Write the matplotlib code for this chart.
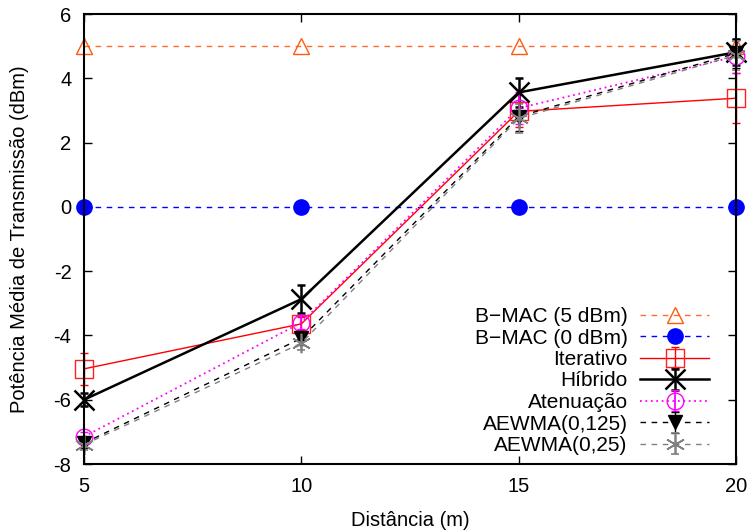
import matplotlib
matplotlib.use("Agg")
import matplotlib.pyplot as plt

plt.rcParams['font.family'] = ['Liberation Sans', 'DejaVu Sans']
plt.rcParams['axes.unicode_minus'] = False

dist = [5, 10, 15, 20]
bmac5 = [5, 5, 5, 5]
bmac0 = [0, 0, 0, 0]
iterativo = [-5.04, -3.64, 2.97, 3.38]
iterativo_err = [0.5, 0.2, 0.5, 0.78]
hibrido = [-6.0, -2.87, 3.56, 4.81]
hibrido_err = [0.2, 0.43, 0.45, 0.4]
atenuacao = [-7.15, -3.6, 3.07, 4.68]
atenuacao_err = [0.15, 0.2, 0.5, 0.5]
aewma125 = [-7.35, -4.09, 2.81, 4.78]
aewma125_err = [0.15, 0.2, 0.45, 0.45]
aewma25 = [-7.4, -4.24, 2.75, 4.72]
aewma25_err = [0.15, 0.2, 0.45, 0.45]

fig = plt.figure(figsize=(7.49, 5.32), dpi=100)
ax = fig.add_axes([84/749, 1-464/532, (736-84)/749, (464-14)/532])

ax.plot(dist, bmac5, linestyle=(0, (4, 4)), color='#ff6a30', lw=1, marker='^',
        ms=11, mfc='none', mec='#ff5a10', mew=1, label='B\u2212MAC (5 dBm)', clip_on=False)
ax.plot(dist, bmac0, linestyle=(0, (4, 4)), color='#0000ff', lw=1, marker='o',
        ms=11, mfc='#0000ff', mec='#0000ff', label='B\u2212MAC (0 dBm)', clip_on=False)
ax.errorbar(dist, iterativo, yerr=iterativo_err, color='#ff0000', lw=1, marker='s',
            ms=13, mfc='none', mec='#ff2020', capsize=3, label='Iterativo', clip_on=False)
ax.errorbar(dist, hibrido, yerr=hibrido_err, color='black', lw=1.8, marker='x',
            ms=14, mew=1.8, capsize=3, label='H\u00edbrido', clip_on=False)
ax.errorbar(dist, atenuacao, yerr=atenuacao_err, color='#ff00ff', lw=1.3, ls=(0, (1, 2)),
            marker='o', ms=12, mfc='none', capsize=3, label='Atenua\u00e7\u00e3o', clip_on=False)
ax.errorbar(dist, aewma125, yerr=aewma125_err, color='black', lw=1, ls=(0, (4, 4)),
            marker='v', ms=10, capsize=3, label='AEWMA(0,125)', clip_on=False)
ax.errorbar(dist, aewma25, yerr=aewma25_err, color='#808080', lw=1, ls=(0, (4, 4)),
            marker=(6, 2, 0), ms=14, mew=1.2, capsize=3, label='AEWMA(0,25)', clip_on=False)

ax.set_xlim(5, 20)
ax.set_ylim(-8, 6)
ax.set_xticks([5, 10, 15, 20])
ax.set_yticks([-8, -6, -4, -2, 0, 2, 4, 6])
ax.tick_params(direction='in', top=True, right=True, labelsize=14.5, length=6, width=1)
ax.tick_params(axis='x', pad=9)
ax.tick_params(axis='y', pad=9)
for s in ax.spines.values():
    s.set_linewidth(1.5)
ax.set_xlabel('Dist\u00e2ncia (m)', fontsize=14.5, labelpad=11)
ax.set_ylabel('Pot\u00eancia M\u00e9dia de Transmiss\u00e3o (dBm)', fontsize=14.5, labelpad=18)

leg = ax.legend(loc='lower right', frameon=False, markerfirst=False, fontsize=15,
                handlelength=3.3, labelspacing=0.12, borderaxespad=0, borderpad=0,
                handletextpad=0.6,
                bbox_to_anchor=((709-84)/652, 0.02))

fig.savefig('out.png', dpi=100)
